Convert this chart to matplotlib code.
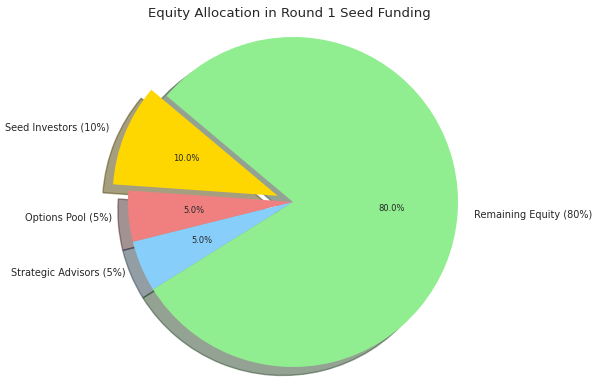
import matplotlib
matplotlib.use("Agg")
import matplotlib.pyplot as plt

labels = ["Seed Investors (10%)", "Options Pool (5%)", "Strategic Advisors (5%)", "Remaining Equity (80%)"]
sizes = [10, 5, 5, 80]
colors = ["gold", "lightcoral", "lightskyblue", "lightgreen"]
explode = [0.1, 0, 0, 0]

W, H = 600, 389
fig = plt.figure(figsize=(6, 3.89), dpi=100)
r_px = 165
span = 2.4
size_px = r_px * span
cx, cy = 293, H - 202
ax = fig.add_axes([(cx - size_px / 2) / W, (cy - size_px / 2) / H, size_px / W, size_px / H])
ax.pie(sizes, explode=explode, labels=labels, colors=colors, autopct="%1.1f%%",
       shadow={"ox": -0.044, "oy": -0.037}, startangle=140,
       textprops={"fontsize": 7.0, "color": "#262626"})
for t in ax.texts:
    if t.get_text().endswith("%") and "(" not in t.get_text():
        t.set_fontsize(6.0)
ax.set_xlim(-1.2, 1.2)
ax.set_ylim(-1.2, 1.2)
ax.set_aspect("equal")
ax.axis("off")
fig.text(289 / W, 1 - 13 / H, "Equity Allocation in Round 1 Seed Funding",
         ha="center", va="center", fontsize=9.5, color="#262626")
fig.savefig("out.png", dpi=100)
